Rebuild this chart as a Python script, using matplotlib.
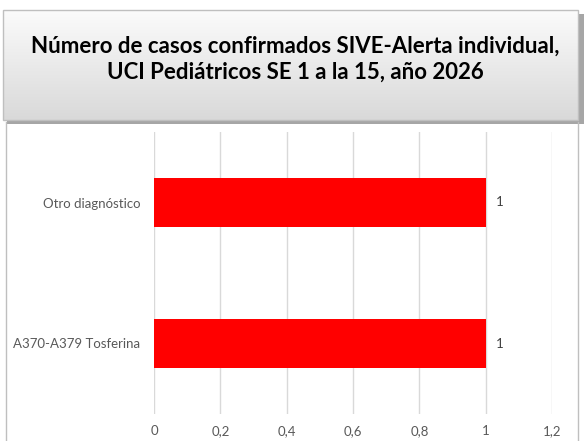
import numpy as np
import matplotlib.pyplot as plt
from matplotlib.colors import LinearSegmentedColormap
from matplotlib.patches import Rectangle

# datos
categorias = ['A370-A379 Tosferina', 'Otro diagnóstico']
casos = [1, 1]
ticks_x = [0, 0.2, 0.4, 0.6, 0.8, 1, 1.2]
etiquetas_x = ['0', '0,2', '0,4', '0,6', '0,8', '1', '1,2']
titulo = 'Número de casos confirmados SIVE-Alerta individual,\nUCI Pediátricos SE 1 a la 15, año 2026'

W, H = 585, 441
fig = plt.figure(figsize=(W / 100, H / 100), dpi=100)
fig.patch.set_facecolor('white')

# fondo en pixeles: caja del titulo y marco
bg = fig.add_axes([0, 0, 1, 1], zorder=0)
bg.set_xlim(0, W)
bg.set_ylim(H, 0)
bg.axis('off')
bg.add_patch(Rectangle((7, 14), 577, 110, facecolor='#a6a6a6', edgecolor='none'))
grad = np.linspace(0, 1, 100).reshape(-1, 1)
cmap = LinearSegmentedColormap.from_list('g', ['#fbfbfb', '#d9d9d9'])
bg.imshow(grad, aspect='auto', cmap=cmap, extent=[3, 578, 120, 10], zorder=2)
bg.add_patch(Rectangle((3, 10), 575, 110, facecolor='none', edgecolor='#bfbfbf', lw=1, zorder=3))
bg.plot([6, 6], [122, H], color='#bfbfbf', lw=1)
bg.plot([578, 578], [122, H], color='#bfbfbf', lw=1)
bg.set_xlim(0, W)
bg.set_ylim(H, 0)

fig.text(0.505, 1 - 59 / H, titulo, ha='center', va='center', fontsize=16,
         fontweight='bold', family='Lato', linespacing=1.3, color='black')

ax = fig.add_axes([154 / W, 1 - 414 / H, 398 / W, 282 / H], zorder=1)
ax.patch.set_alpha(0)
y = np.arange(len(categorias))
ax.barh(y, casos, height=0.35, color='#ff0000', zorder=3)
for yi, v in zip(y, casos):
    ax.text(v + 0.03, yi, str(v), va='center', ha='left', fontsize=9.5,
            color='#404040', family='Lato')

ax.set_xlim(0, 1.2)
ax.set_ylim(-0.5, 1.5)
ax.set_xticks(ticks_x)
ax.set_xticklabels(etiquetas_x, fontsize=9.5, color='#595959', family='Lato')
ax.set_yticks(y)
ax.set_yticklabels(categorias, fontsize=9.5, color='#595959', family='Lato')
ax.tick_params(length=0, pad=10, axis='y')
ax.tick_params(length=0, pad=8, axis='x')
ax.grid(axis='x', color='#d9d9d9', lw=1, zorder=0)
for s in ax.spines.values():
    s.set_visible(False)

fig.savefig('out.png', dpi=100)
